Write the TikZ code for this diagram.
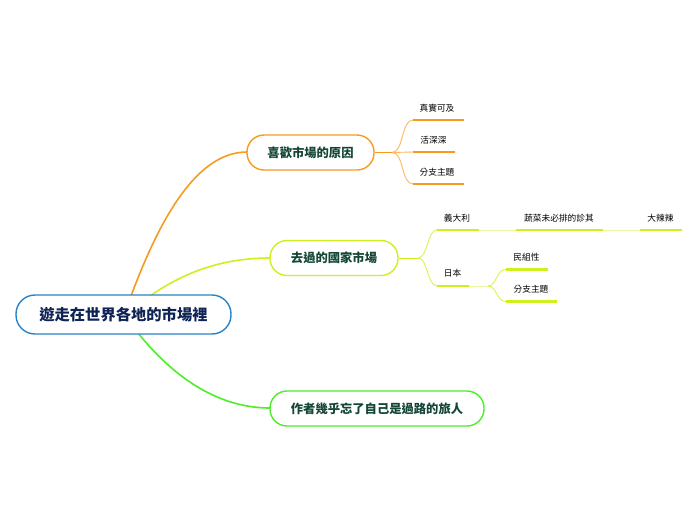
\documentclass[tikz,border=0pt]{standalone}
\usepackage{fontspec}
\setmainfont{Noto Sans CJK TC}
\definecolor{cOr}{RGB}{247,154,30}
\definecolor{cLi}{RGB}{206,240,30}
\definecolor{cLiL}{RGB}{230,248,160}
\definecolor{cGr}{RGB}{76,238,40}
\definecolor{cBl}{RGB}{40,130,200}
\definecolor{cTxt}{RGB}{20,70,55}
\definecolor{cRootTxt}{RGB}{15,35,85}
\tikzset{
  x=1pt,y=-1pt,
  rootbox/.style={draw=cBl,line width=1.4pt,rounded corners=19pt,minimum width=215pt,minimum height=39pt,fill=white,text=cRootTxt,font=\bfseries\fontsize{15.3}{17}\selectfont,inner sep=0pt},
  mainbox/.style={line width=1.4pt,rounded corners=17pt,minimum height=35pt,fill=white,text=cTxt,font=\bfseries\fontsize{12.3}{14}\selectfont,inner sep=0pt},
  leaf/.style={font=\fontsize{8.7}{10}\selectfont,text=black,inner sep=0pt},
  mainline/.style={line width=1.6pt},
  subline/.style={line width=0.9pt},
  uline/.style={line width=2.4pt}
}
\begin{document}
\begin{tikzpicture}
\useasboundingbox (0,0) rectangle (696,520);
% main connectors
\coordinate (r1) at (131,296);
\coordinate (r2) at (150,296);
\coordinate (r3) at (138,333);
\draw[cOr,mainline] (r1) .. controls (163,210) and (200,152) .. (247,152);
\draw[cLi,mainline] (r2) .. controls (190,268) and (230,258) .. (270,258);
\draw[cGr,mainline] (r3) .. controls (180,385) and (225,408) .. (270,408);
% nodes
\node[rootbox] (root) at (123.5,314.5) {遊走在世界各地的市場裡};
\node[mainbox,draw=cOr,minimum width=127pt] (n1) at (310.5,152.5) {喜歡市場的原因};
\node[mainbox,draw=cLi,minimum width=128pt] (n2) at (334,258) {去過的國家市場};
\node[mainbox,draw=cGr,minimum width=214pt] (n3) at (377,408.5) {作者幾乎忘了自己是過路的旅人};
% branch 1 leaves
\coordinate (b1) at (392,152.5);
\draw[cOr,subline] (n1.east) -- (b1);
\coordinate (l1a) at (413,120); \coordinate (l1ae) at (464,120);
\coordinate (l1b) at (413,152); \coordinate (l1be) at (455,152);
\coordinate (l1c) at (413,184); \coordinate (l1ce) at (464,184);
\draw[cOr!70,subline] (b1) .. controls (404,152) and (401,120) .. (l1a);
\draw[cOr!70,subline] (b1) -- (l1b);
\draw[cOr!70,subline] (b1) .. controls (404,152) and (401,184) .. (l1c);
\draw[cOr,uline] (l1a) -- (l1ae);
\draw[cOr,uline] (l1b) -- (l1be);
\draw[cOr,uline] (l1c) -- (l1ce);
\node[leaf] (t1a) at (437,108.5) {真實可及};
\node[leaf] (t1b) at (433.5,140.5) {活深深};
\node[leaf] (t1c) at (437,172.5) {分支主題};
% branch 2
\coordinate (b2) at (418,258);
\draw[cLi,subline] (n2.east) -- (b2);
\coordinate (l2a) at (437,230); \coordinate (l2ae) at (479,230);
\coordinate (l2b) at (437,286); \coordinate (l2be) at (469,286);
\draw[cLi!80,subline] (b2) .. controls (428,258) and (427,230) .. (l2a);
\draw[cLi!80,subline] (b2) .. controls (428,258) and (427,286) .. (l2b);
\draw[cLi,uline] (l2a) -- (l2ae);
\draw[cLi,uline] (l2b) -- (l2be);
\node[leaf] (t2a) at (457,218.5) {義大利};
\node[leaf] (t2b) at (452.5,273.5) {日本};
% italy chain
\coordinate (l3a) at (516,230); \coordinate (l3ae) at (603,230);
\coordinate (l4a) at (640,230); \coordinate (l4ae) at (682,230);
\draw[cLiL,subline] (l2ae) -- (l3a);
\draw[cLi,uline] (l3a) -- (l3ae);
\draw[cLiL,subline] (l3ae) -- (l4a);
\draw[cLi,uline] (l4a) -- (l4ae);
\node[leaf] (t3a) at (559,218.5) {蔬菜未必排的診其};
\node[leaf] (t4a) at (660.5,218.5) {大辣辣};
% japan children
\coordinate (b5) at (488,286);
\draw[cLiL,subline] (l2be) -- (b5);
\coordinate (l5a) at (506,269.5); \coordinate (l5ae) at (548,269.5);
\coordinate (l5b) at (506,301.5); \coordinate (l5be) at (557,301.5);
\draw[cLi!80,subline] (b5) .. controls (497,286) and (496,269.5) .. (l5a);
\draw[cLi!80,subline] (b5) .. controls (497,286) and (496,301.5) .. (l5b);
\draw[cLi,uline] (l5a) -- (l5ae);
\draw[cLi,uline] (l5b) -- (l5be);
\node[leaf] (t5a) at (526.5,257.5) {民組性};
\node[leaf] (t5b) at (531,289.5) {分支主題};
\end{tikzpicture}
\end{document}
